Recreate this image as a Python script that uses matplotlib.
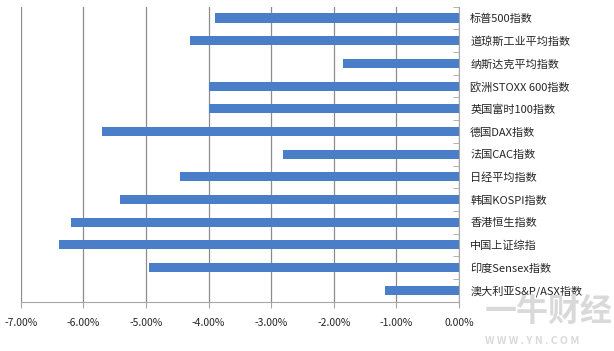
import matplotlib
matplotlib.use("Agg")
import matplotlib.pyplot as plt
import numpy as np
from matplotlib.ticker import FixedLocator, PercentFormatter

plt.rcParams['font.family'] = ['Noto Sans CJK SC', 'DejaVu Sans']
plt.rcParams['axes.unicode_minus'] = False

categories = ['标普500指数', '道琼斯工业平均指数', '纳斯达克平均指数', '欧洲STOXX 600指数',
              '英国富时100指数', '德国DAX指数', '法国CAC指数', '日经平均指数',
              '韩国KOSPI指数', '香港恒生指数', '中国上证综指', '印度Sensex指数',
              '澳大利亚S&P/ASX指数']
values = [-3.89, -4.30, -1.86, -4.00, -4.00, -5.70, -2.81, -4.46,
          -5.41, -6.20, -6.39, -4.95, -1.19]
xticks = [-7, -6, -5, -4, -3, -2, -1, 0]

fig = plt.figure(figsize=(6.14, 3.51), dpi=100)
ax = fig.add_axes([0.0337, 0.1405, 0.7139, 0.8405])

y = np.arange(len(categories))
ax.barh(y, values, height=0.4, color='#4A7EC8', zorder=3)

ax.set_xlim(-7, 0)
ax.set_ylim(len(categories) - 0.5, -0.5)

ax.set_xticks(xticks)
ax.xaxis.set_major_formatter(PercentFormatter(decimals=2))
ax.grid(axis='x', color='#8C8C8C', linewidth=0.9, zorder=0)
ax.tick_params(axis='x', direction='out', length=4, color='#A6A6A6',
               labelsize=7.5, labelcolor='#262626', pad=8)

ax.yaxis.tick_right()
ax.set_yticks(y)
ax.set_yticklabels(categories)
ax.yaxis.set_minor_locator(FixedLocator(np.arange(-0.5, len(categories), 1)))
ax.tick_params(axis='y', which='major', length=0, pad=8, labelsize=8, labelcolor='#262626')
ax.tick_params(axis='y', which='minor', direction='in', length=4, color='#A6A6A6')

for s in ['top', 'left']:
    ax.spines[s].set_visible(False)
ax.spines['bottom'].set_color('#A6A6A6')
ax.spines['right'].set_color('#A6A6A6')
ax.spines['right'].set_zorder(4)

# watermark
fig.text(0.79, 0.085, '一牛财经', fontsize=23, fontweight='bold', color='#D9D9D9', zorder=0)
fig.text(0.79, 0.02, 'W W W . Y N . C O M', fontsize=7.5, fontweight='bold', color='#D9D9D9', zorder=0)

fig.savefig('out.png', dpi=100)
